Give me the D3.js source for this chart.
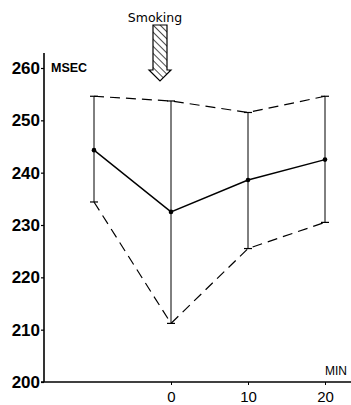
<!DOCTYPE html>
<html><head><meta charset="utf-8">
<script src="https://cdn.jsdelivr.net/npm/d3@7"></script>
<style>body{margin:0;background:#fff}svg{display:block}</style>
</head><body>
<svg id="c" width="351" height="405"></svg>
<script>
const minutes = [-10, 0, 10, 20];
const meanMsec = [244.3, 232.5, 238.6, 242.5];
const upperMsec = [254.6, 253.7, 251.5, 254.6];
const lowerMsec = [234.4, 211.2, 225.5, 230.5];
const yTicks = [200, 210, 220, 230, 240, 250, 260];
const xTicks = [0, 10, 20];

const svg = d3.select("#c");
const x = d3.scaleLinear().domain([-10, 20]).range([94, 325]);
const y = d3.scaleLinear().domain([200, 260]).range([382, 68]);

// hatch pattern
const defs = svg.append("defs");
const pat = defs.append("pattern").attr("id","hatch").attr("patternUnits","userSpaceOnUse")
  .attr("width",5).attr("height",5).attr("patternTransform","rotate(-45)");
pat.append("line").attr("x1",0).attr("y1",0).attr("x2",0).attr("y2",5)
  .attr("stroke","#000").attr("stroke-width",1.4);

// axes
const axisX = 44;
svg.append("line").attr("x1",axisX).attr("x2",axisX).attr("y1",53).attr("y2",y(200))
  .attr("stroke","#000").attr("stroke-width",1.6);
svg.append("line").attr("x1",axisX-3).attr("x2",351).attr("y1",y(200)).attr("y2",y(200))
  .attr("stroke","#000").attr("stroke-width",1.6);

const yAxis = d3.axisLeft(y).tickValues(yTicks).tickSize(3).tickPadding(1).tickFormat(d3.format("d"));
const gy = svg.append("g").attr("transform",`translate(${axisX},0)`).call(yAxis);
gy.select(".domain").remove();
gy.selectAll("text").attr("font-family","Liberation Sans, Arial, sans-serif")
  .attr("font-size",17).attr("font-weight","bold").attr("fill","#000");
gy.selectAll("line").attr("stroke","#000").attr("stroke-width",1.2);

const xAxis = d3.axisBottom(x).tickValues(xTicks).tickSize(3).tickPadding(6).tickFormat(d3.format("d"));
const gx = svg.append("g").attr("transform",`translate(0,${y(200)})`).call(xAxis);
gx.select(".domain").remove();
gx.selectAll("text").attr("font-family","Liberation Sans, Arial, sans-serif")
  .attr("font-size",15).attr("fill","#000");
gx.selectAll("line").attr("stroke","#000").attr("stroke-width",1);

svg.append("text").attr("x",51).attr("y",72).text("MSEC")
  .attr("font-family","Liberation Sans, Arial, sans-serif").attr("font-size",12.5).attr("font-weight","bold");
svg.append("text").attr("x",325).attr("y",375).text("MIN")
  .attr("font-family","Liberation Sans, Arial, sans-serif").attr("font-size",12);

// dashed envelope
const lineGen = vals => d3.line().x((d,i)=>x(minutes[i])).y(d=>y(d))(vals);
svg.append("path").attr("d",lineGen(upperMsec)).attr("fill","none").attr("stroke","#000")
  .attr("stroke-width",1.2).attr("stroke-dasharray","10,6");
svg.append("path").attr("d",lineGen(lowerMsec)).attr("fill","none").attr("stroke","#000")
  .attr("stroke-width",1.2).attr("stroke-dasharray","10,6");

// error bars
const eb = svg.append("g").selectAll("g").data(minutes).join("g");
eb.append("line").attr("x1",d=>x(d)).attr("x2",d=>x(d))
  .attr("y1",(d,i)=>y(upperMsec[i])).attr("y2",(d,i)=>y(lowerMsec[i]))
  .attr("stroke","#000").attr("stroke-width",1);
eb.append("line").attr("x1",d=>x(d)-4).attr("x2",d=>x(d)+4)
  .attr("y1",(d,i)=>y(upperMsec[i])).attr("y2",(d,i)=>y(upperMsec[i]))
  .attr("stroke","#000").attr("stroke-width",1.2);
eb.append("line").attr("x1",d=>x(d)-4).attr("x2",d=>x(d)+4)
  .attr("y1",(d,i)=>y(lowerMsec[i])).attr("y2",(d,i)=>y(lowerMsec[i]))
  .attr("stroke","#000").attr("stroke-width",1.2);

// mean line
svg.append("path").attr("d",lineGen(meanMsec)).attr("fill","none").attr("stroke","#000").attr("stroke-width",1.4);
svg.append("g").selectAll("circle").data(meanMsec).join("circle")
  .attr("cx",(d,i)=>x(minutes[i])).attr("cy",d=>y(d)).attr("r",2.3).attr("fill","#000");

// Smoking arrow
svg.append("text").attr("x",155).attr("y",22).attr("text-anchor","middle").text("Smoking")
  .attr("font-family","DejaVu Sans, sans-serif").attr("font-size",12.5);
svg.append("path")
  .attr("d","M153,25 L167,25 L167,70 L171,70 L160,81 L149,70 L153,70 Z")
  .attr("fill","url(#hatch)").attr("stroke","#000").attr("stroke-width",1.2);
</script>
</body></html>
